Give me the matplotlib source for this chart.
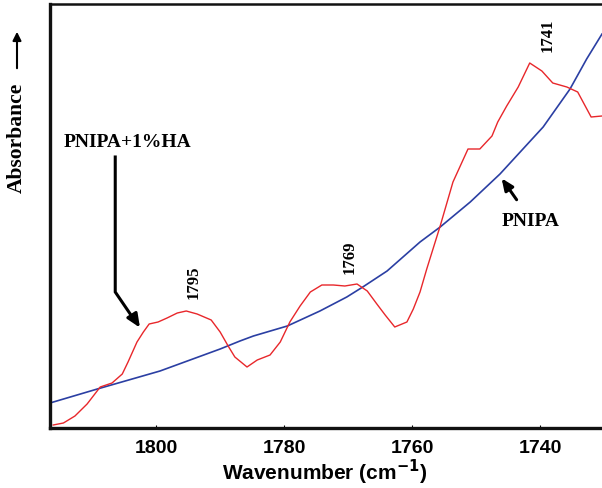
import numpy as np
import matplotlib.pyplot as plt

# FTIR spectra in the carbonyl region (absorbance in arbitrary units)
wn_hybrid = [1816.1, 1814.5, 1812.7, 1810.8, 1808.75, 1806.9, 1805.3, 1804.4, 1803.0, 1802.0,
             1801.1, 1799.7, 1798.3, 1796.7, 1795.3, 1793.6, 1791.4, 1790.0, 1788.75, 1787.7,
             1785.8, 1784.2, 1782.2, 1780.6, 1779.1, 1777.5, 1775.9, 1774.1, 1772.3, 1770.5,
             1768.6, 1767.0, 1765.5, 1764.2, 1762.7, 1760.8, 1759.8, 1758.75, 1757.7, 1755.6,
             1753.6, 1751.25, 1749.4, 1747.5, 1746.6, 1745.2, 1743.4, 1741.6, 1739.7, 1738.0,
             1735.8, 1734.1, 1732.0, 1730.3]
abs_hybrid = [3, 5, 12, 24, 41, 45, 54, 66, 86, 96,
              104, 106, 110, 115, 117, 114, 108, 96, 82, 71,
              61, 68, 73, 86, 106, 122, 136, 143, 143, 142,
              144, 137, 124, 113, 101, 106, 119, 136, 159, 202,
              246, 279, 279, 292, 306, 322, 341, 365, 357, 345,
              341, 336, 311, 312]

wn_pnipa = [1816.6, 1809.2, 1799.4, 1790.0, 1786.9, 1784.8, 1779.5, 1774.4, 1770.2, 1767.7,
            1763.9, 1758.75, 1755.6, 1750.9, 1746.25, 1739.5, 1735.3, 1732.7, 1730.3]
abs_pnipa = [25, 39, 57, 79, 87, 92, 102, 117, 131, 141,
             157, 186, 201, 226, 254, 301, 339, 369, 394]

peaks = [1795, 1769, 1741]
peak_label_pos = [(1794.2, 147), (1769.7, 172), (1738.75, 394)]

fig = plt.figure(figsize=(6.02, 4.89), dpi=100)
ax = fig.add_axes([50 / 602, 60 / 489, 552 / 602, 424 / 489])

ax.plot(wn_pnipa, abs_pnipa, color='#2b3fa3', lw=1.2)
ax.plot(wn_hybrid, abs_hybrid, color='#e8272b', lw=1.0)

ax.set_xlim(1816.6, 1730.3)
ax.set_ylim(0, 424)
ax.set_xticks([1800, 1780, 1760, 1740])
ax.set_yticks([])
ax.tick_params(axis='x', direction='in', length=2, width=0.8, pad=8)
for lab in ax.get_xticklabels():
    lab.set_fontfamily('Liberation Sans')
    lab.set_fontweight('bold')
    lab.set_fontsize(14)

ax.spines['right'].set_visible(False)
ax.spines['left'].set_linewidth(2.4)
ax.spines['bottom'].set_linewidth(2.4)
ax.spines['top'].set_linewidth(1.8)
for s in ax.spines.values():
    s.set_color('#111111')

ax.set_xlabel('Wavenumber (cm$^{\\mathbf{-1}}$)', fontfamily='Liberation Sans',
              fontweight='bold', fontsize=15)
ax.xaxis.set_label_coords(275 / 552, -29 / 424)

serif = dict(fontfamily='Liberation Serif', fontweight='bold')
for p, (x, y) in zip(peaks, peak_label_pos):
    ax.text(x, y, str(p), rotation=90, ha='center', va='center', fontsize=12, **serif)

# labels with pointer arrows
ax.text(1814.5, 287, 'PNIPA+1%HA', ha='left', va='center', fontsize=14, **serif)
ax.plot([1806.4, 1806.4, 1803.2], [271, 136, 106], color='black', lw=2.2,
        solid_joinstyle='miter')
ax.annotate('', xy=(1802.3, 98), xytext=(1803.6, 111),
            arrowprops=dict(arrowstyle='-|>,head_length=0.8,head_width=0.35',
                            color='black', lw=2.2))

ax.text(1741.4, 207, 'PNIPA', ha='center', va='center', fontsize=14, **serif)
ax.annotate('', xy=(1746.25, 252), xytext=(1743.4, 226),
            arrowprops=dict(arrowstyle='-|>,head_length=0.7,head_width=0.3',
                            color='black', lw=2.2))

# y axis label with upward arrow
fig.text(17 / 602, 1 - 138 / 489, 'Absorbance', rotation=90, ha='center', va='center',
         fontsize=15.5, **serif)
fig.add_artist(plt.matplotlib.patches.FancyArrowPatch(
    (17 / 602, 1 - 72 / 489), (17 / 602, 1 - 30 / 489), transform=fig.transFigure,
    arrowstyle='-|>,head_length=5,head_width=2.5', color='black', lw=1.5))

fig.savefig('out.png', dpi=100)
